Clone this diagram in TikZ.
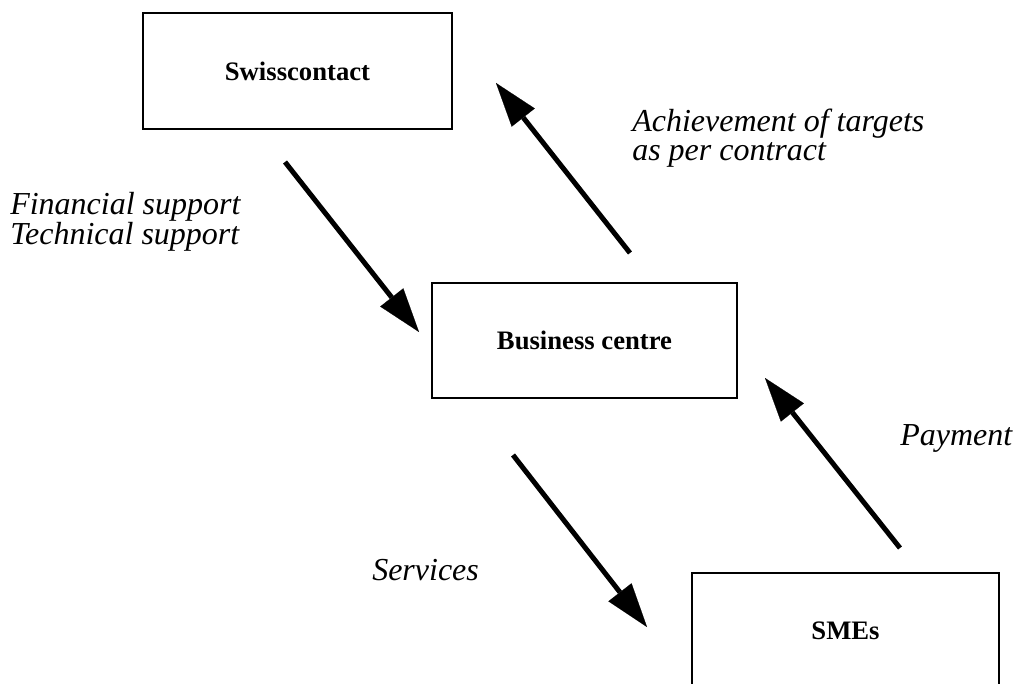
\documentclass[tikz,border=0pt]{standalone}
\usepackage{fontspec}
\setmainfont{Liberation Serif}
\usetikzlibrary{arrows.meta}
\begin{document}
\begin{tikzpicture}[x=0.75pt,y=-0.75pt,
  box/.style={draw, line width=1.5pt, inner sep=0pt, font=\fontsize{20}{24}\selectfont\bfseries},
  flow/.style={line width=3.75pt, -{Triangle[length=33pt,width=22pt,line width=0.1pt]}},
  lbl/.style={font=\fontsize{24}{22}\selectfont\itshape, align=left, anchor=base west, inner sep=0pt}]
\useasboundingbox (0,0) rectangle (1013,684);
\clip (0,0) rectangle (1013,684);
\node[box, minimum width=231.75pt, minimum height=87pt] (swiss) at (297.5,71) {Swisscontact};
\node[box, minimum width=228.75pt, minimum height=86.25pt] (bc) at (584.5,340.5) {Business centre};
\node[box, minimum width=230.25pt, minimum height=87pt] (sme) at (845.5,631) {SMEs};
\coordinate (a1s) at (285,162); \coordinate (a1e) at (419,332);
\coordinate (a2s) at (630,253); \coordinate (a2e) at (496,83);
\coordinate (a3s) at (513,455); \coordinate (a3e) at (647,627);
\coordinate (a4s) at (900,548); \coordinate (a4e) at (765,378);
\draw[flow] (a1s) -- (a1e);
\draw[flow] (a2s) -- (a2e);
\draw[flow] (a3s) -- (a3e);
\draw[flow] (a4s) -- (a4e);
\node[lbl] (lfin) at (10,244) {Financial support\\Technical support};
\node[lbl] (lach) at (632,161) {Achievement of targets\\as per contract};
\node[lbl] (lser) at (372,580) {Services};
\node[lbl] (lpay) at (900,445) {Payment};
\end{tikzpicture}
\end{document}
